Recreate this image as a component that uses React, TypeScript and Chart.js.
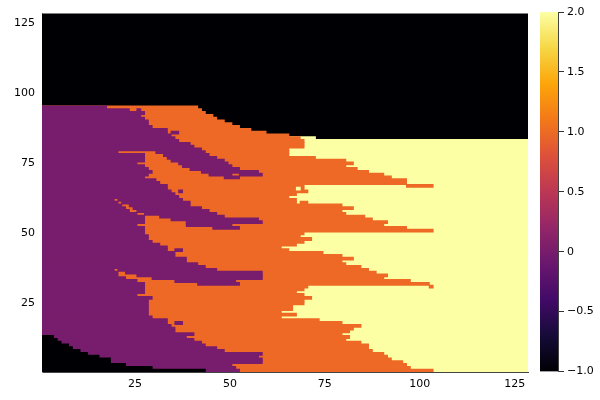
import React, { useEffect, useRef } from "react";
import { Chart, registerables } from "chart.js";

Chart.register(...registerables);

const FONT = "'DejaVu Sans', sans-serif";
const colorTicks = [-1, -0.5, 0, 0.5, 1, 1.5, 2];
const colorTickLabels = ["\u22121.0", "\u22120.5", "0", "0.5", "1.0", "1.5", "2.0"];
const axisTicks = [25, 50, 75, 100, 125];
const rowCount = 128;
const columnCount = 128;

const blackEnd = [43, 29, 22, 18, 18, 15, 12, 10, 8, 7, 5, 4, 3];
const purpleEnd = [
  52, 51, 50, 58, 58, 57, 58, 48, 46, 43, 42, 40, 38, 40, 35, 35, 34, 33, 33, 29,
  28, 28, 28, 28, 28, 28, 29, 25, 27, 27, 27, 27, 25, 22, 20, 20, 19, 43, 41, 38,
  38, 35, 35, 33, 33, 31, 29, 28, 28, 27, 27, 27, 25, 27, 27, 27, 25, 23, 22, 21,
  20, 19, 36, 35, 34, 33, 33, 31, 30, 27, 28, 29, 28, 27, 25, 27, 27, 27, 20, 42,
  40, 39, 36, 35, 34, 33, 33, 29, 28, 28, 27, 26, 27, 23, 17,
];
const orangeEnd = [
  103, 97, 96, 95, 92, 91, 90, 87, 86, 86, 84, 80, 81, 79, 81, 82, 84, 79, 73, 63,
  67, 63, 66, 66, 69, 69, 71, 69, 67, 69, 70, 102, 97, 90, 91, 88, 86, 84, 80, 79,
  82, 79, 74, 65, 63, 67, 69, 71, 68, 69, 103, 96, 90, 91, 87, 85, 80, 79, 82, 79,
  67, 67, 65, 67, 70, 69, 69, 96, 96, 92, 90, 86, 83, 80, 82, 80, 72, 65, 65, 65,
  69, 69, 69, 68, 65, 59, 55, 52, 50, 48, 46, 45, 43, 42, 41,
];
const yellowEnd = [
  128, 128, 128, 128, 128, 128, 128, 128, 128, 128, 128, 128, 128, 128, 128, 128,
  128, 128, 128, 128, 128, 128, 128, 128, 128, 128, 128, 128, 128, 128, 128, 128,
  128, 128, 128, 128, 128, 128, 128, 128, 128, 128, 128, 128, 128, 128, 128, 128,
  128, 128, 128, 128, 128, 128, 128, 128, 128, 128, 128, 128, 128, 128, 128, 128,
  128, 128, 128, 128, 128, 128, 128, 128, 128, 128, 128, 128, 128, 128, 128, 128,
  128, 128, 128, 72,
];
// [row, from column, to column]
const purpleBands = [
  [18, 35, 37], [32, 41, 52], [33, 35, 51], [34, 29, 58], [35, 25, 58], [36, 22, 58], [37, 20, 46],
  [44, 35, 37], [52, 45, 52], [53, 38, 50], [54, 38, 58], [55, 34, 57], [56, 31, 48], [57, 27, 46],
  [58, 25, 44], [59, 24, 42], [60, 23, 39], [61, 21, 39], [62, 20, 37], [65, 36, 37], [70, 48, 52],
  [71, 44, 50], [71, 52, 58], [72, 42, 57], [73, 39, 52], [74, 37, 50], [75, 36, 49], [76, 34, 48],
  [77, 33, 46], [78, 32, 44], [79, 30, 43], [86, 34, 36], [94, 25, 26],
];
const orangeIslands = [
  [31, 102, 103], [61, 68, 70], [67, 96, 103],
];
const yellowIslands = [[66, 67, 68]];

const BLACK = "#000004";
const PURPLE = "#781c6d";
const ORANGE = "#ed6925";
const YELLOW = "#fcffa4";
const infernoStops = ["#000004", "#160b39", "#420a68", "#6a176e", "#932667", "#bc3754", "#dd513a", "#f37819", "#fca50a", "#f6d746", "#fcffa4"];

const span = (row: number, from: number, to: number) => ({ x: [from + 0.5, to + 0.5], y: row });
const fromEnds = (ends: number[]) => ends.map((end, i) => span(i + 1, 0, end));
const fromSpans = (spans: number[][]) => spans.map(([r, a, b]) => span(r, a, b));
const allRows = Array.from({ length: rowCount }, (_, i) => span(i + 1, 0, columnCount));

const layer = (label: string, data: any[], color: string) => ({
  label,
  data,
  backgroundColor: color,
  borderWidth: 0,
  grouped: false,
  barPercentage: 1,
  categoryPercentage: 1,
  inflateAmount: 0.5,
});

export default function App() {
  const mainRef = useRef<HTMLCanvasElement>(null);
  const barRef = useRef<HTMLCanvasElement>(null);

  useEffect(() => {
    const main = new Chart(mainRef.current!, {
      type: "bar",
      data: {
        datasets: [
          layer("black low", fromEnds(blackEnd), BLACK),
          layer("yellow islands", fromSpans(yellowIslands), YELLOW),
          layer("orange islands", fromSpans(orangeIslands), ORANGE),
          layer("purple bands", fromSpans(purpleBands), PURPLE),
          layer("purple", fromEnds(purpleEnd), PURPLE),
          layer("orange", fromEnds(orangeEnd), ORANGE),
          layer("yellow", fromEnds(yellowEnd), YELLOW),
          layer("black", allRows, BLACK),
        ],
      },
      options: {
        indexAxis: "y",
        animation: false,
        responsive: false,
        layout: { padding: { top: 12, right: 72, left: 0, bottom: 0 } },
        plugins: { legend: { display: false }, tooltip: { enabled: false } },
        scales: {
          x: {
            type: "linear",
            min: 0.5,
            max: 128.5,
            afterBuildTicks: (s: any) => { s.ticks = axisTicks.map((value) => ({ value })); },
            afterFit: (s: any) => { s.height = 28; },
            grid: { display: false, drawTicks: false },
            border: { display: true, color: "#444", width: 1, dash: [3, 1] },
            ticks: { color: "#000", font: { family: FONT, size: 11 }, padding: 6, maxRotation: 0, autoSkip: false, callback: (v: any) => String(v) },
          },
          y: {
            type: "linear",
            offset: false,
            min: 0.5,
            max: 128.5,
            afterBuildTicks: (s: any) => { s.ticks = axisTicks.map((value) => ({ value })); },
            afterFit: (s: any) => { s.width = 42; },
            grid: { display: false, drawTicks: false, offset: false },
            border: { display: true, color: "#999", width: 1 },
            ticks: { color: "#000", font: { family: FONT, size: 11 }, padding: 7, autoSkip: false, callback: (v: any) => String(v) },
          },
        },
      },
    } as any);

    const bar = new Chart(barRef.current!, {
      type: "bar",
      data: {
        labels: ["colorbar"],
        datasets: [
          {
            data: [[-1, 2]],
            borderWidth: 0,
            barPercentage: 1,
            categoryPercentage: 1,
            backgroundColor: (c: any) => {
              const area = c.chart.chartArea;
              if (!area) return BLACK;
              const g = c.chart.ctx.createLinearGradient(0, area.bottom, 0, area.top);
              infernoStops.forEach((col, i) => g.addColorStop(i / (infernoStops.length - 1), col));
              return g;
            },
          },
        ],
      },
      options: {
        animation: false,
        responsive: false,
        layout: { padding: { top: 12, left: 10, right: 0, bottom: 28.5 } },
        plugins: { legend: { display: false }, tooltip: { enabled: false } },
        scales: {
          x: { display: false },
          y: {
            type: "linear",
            position: "right",
            min: -1,
            max: 2,
            afterBuildTicks: (s: any) => { s.ticks = colorTicks.map((value) => ({ value })); },
            afterFit: (s: any) => { s.width = 42; },
            grid: { drawOnChartArea: false, drawTicks: true, tickLength: 6, tickColor: "#333" },
            border: { display: true, color: "#444", width: 1 },
            ticks: {
              color: "#000",
              font: { family: FONT, size: 11 },
              padding: 3,
              autoSkip: false,
              callback: (v: any) => colorTickLabels[colorTicks.indexOf(v)],
            },
          },
        },
      },
    } as any);

    return () => {
      main.destroy();
      bar.destroy();
    };
  }, []);

  return (
    <div style={{ position: "absolute", left: 0, top: 0, width: 600, height: 400, background: "#fff" }}>
      <canvas ref={mainRef} width={600} height={400} style={{ position: "absolute", left: 0, top: 0 }} />
      <canvas ref={barRef} width={70} height={400} style={{ position: "absolute", left: 530, top: 0 }} />
    </div>
  );
}
